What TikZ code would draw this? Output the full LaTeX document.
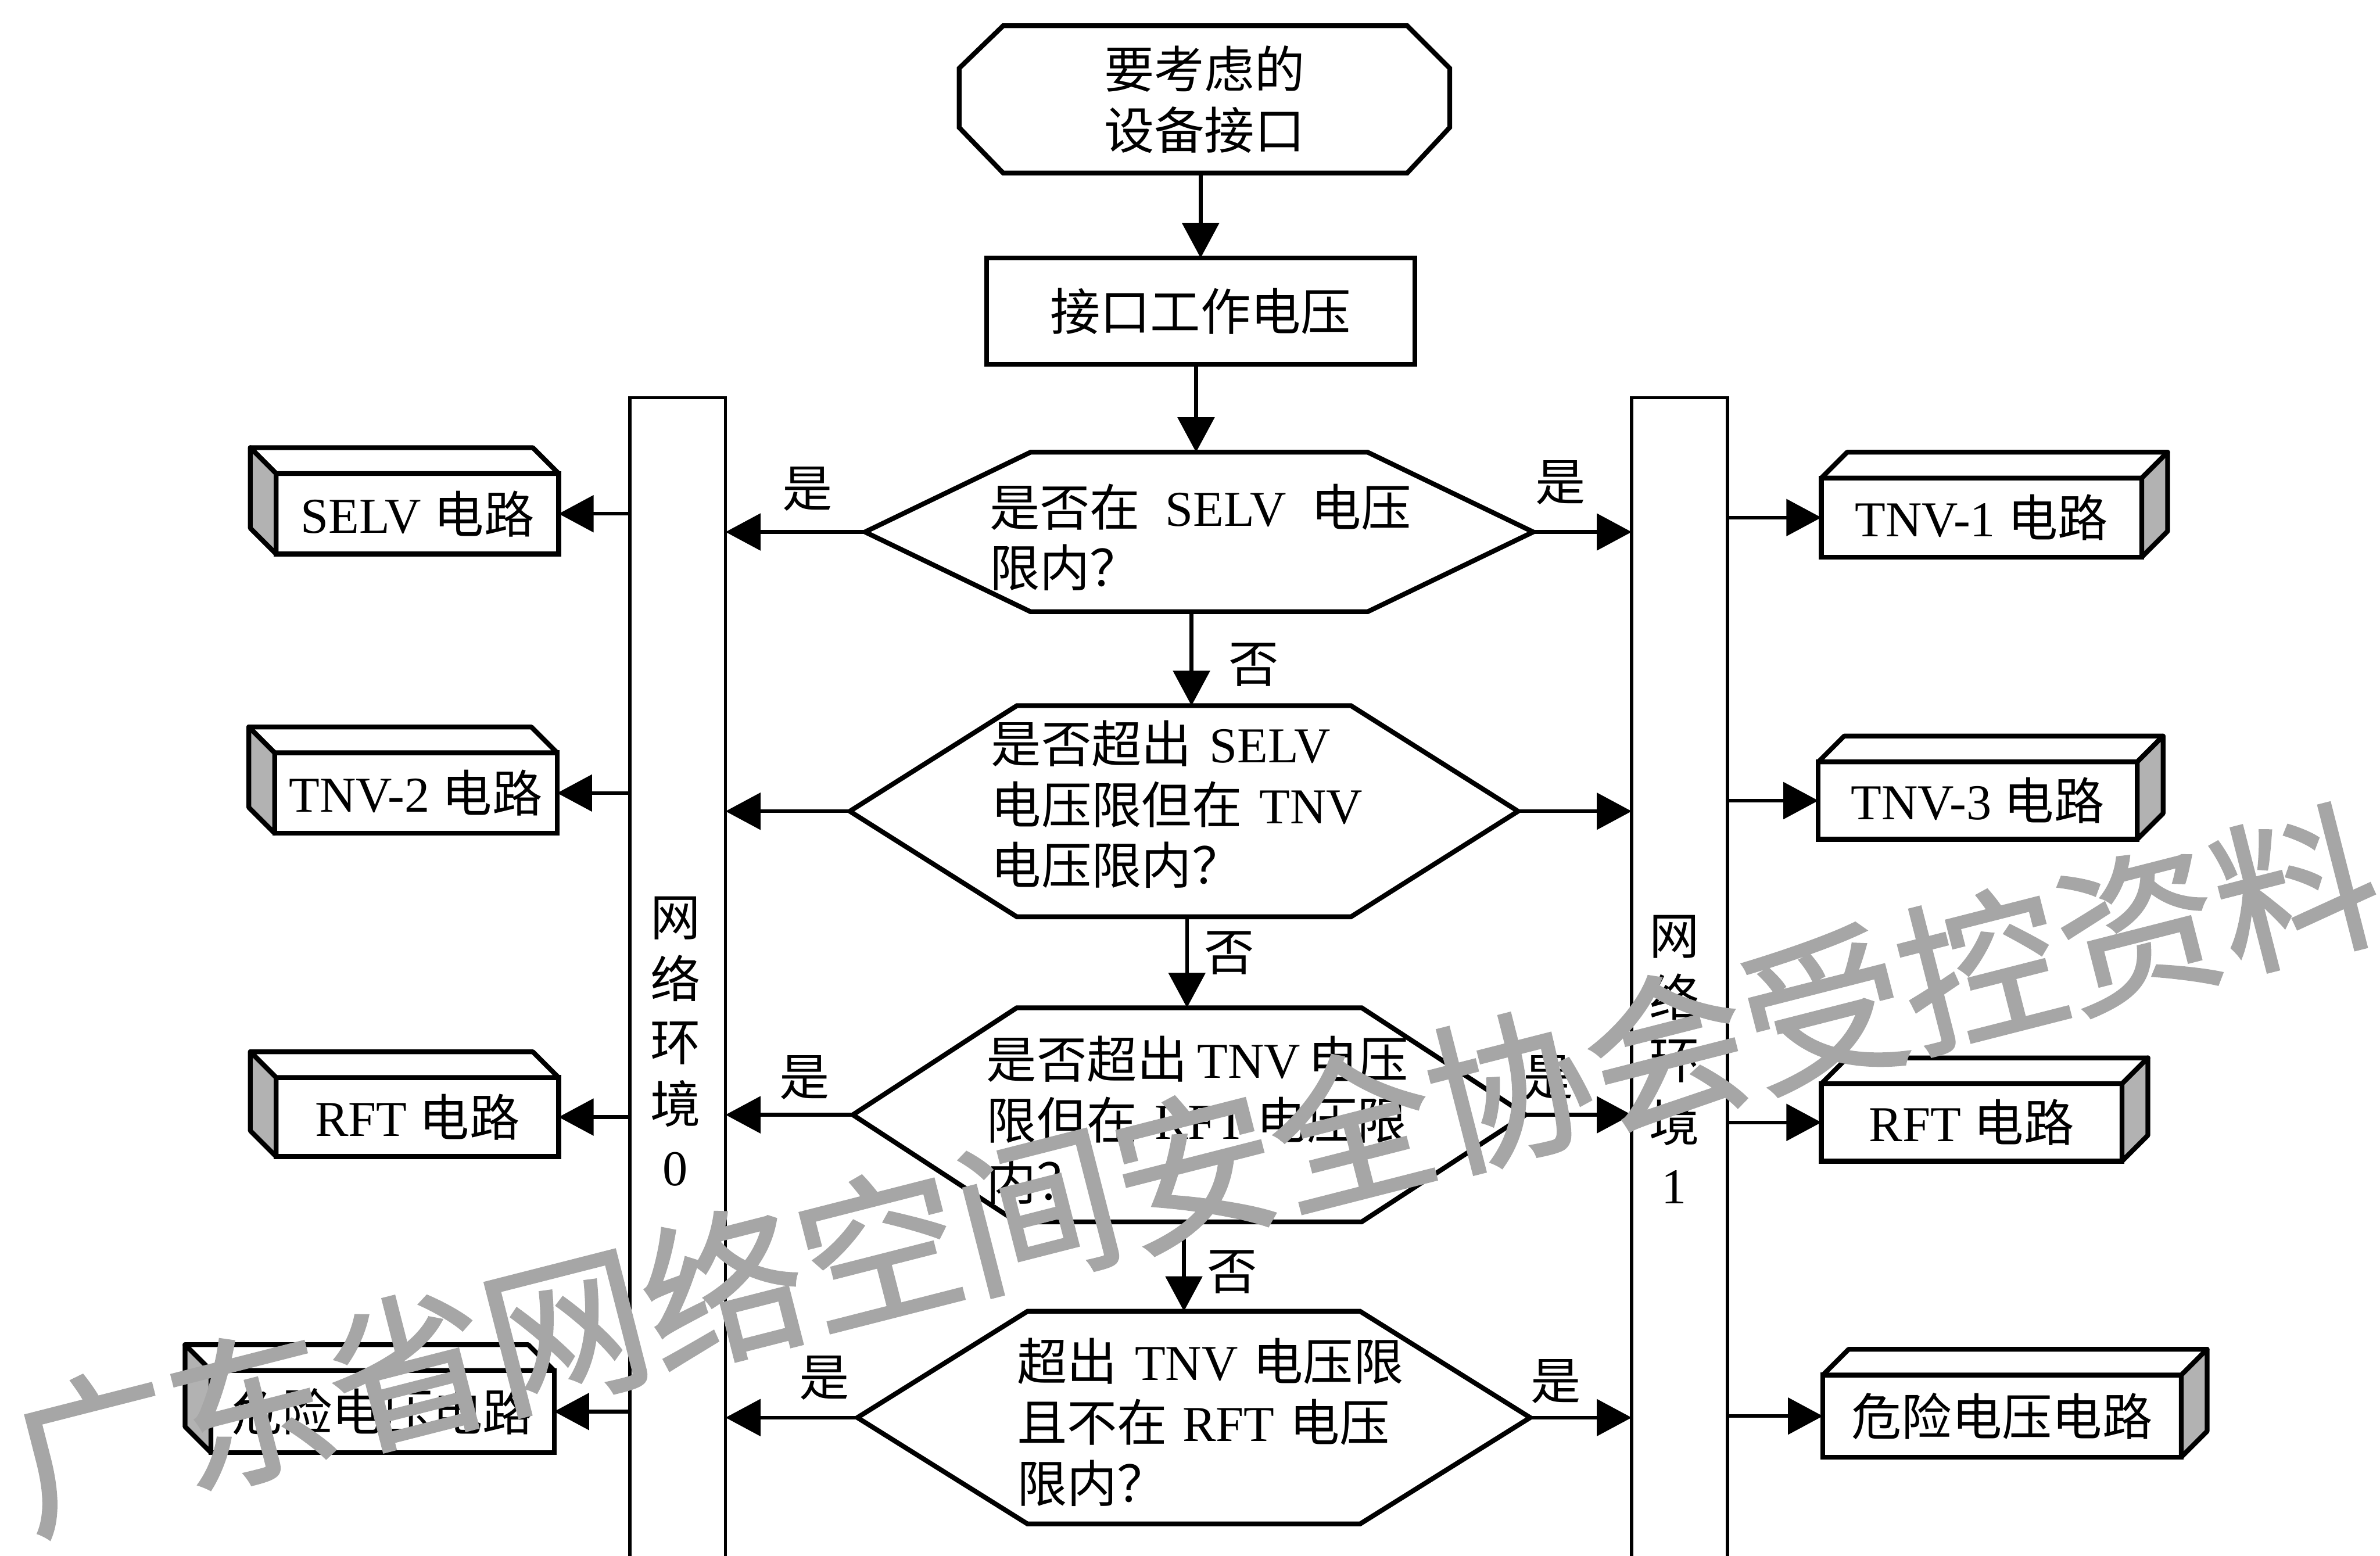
\documentclass[tikz,border=0pt]{standalone}
\usepackage{fontspec}
\setmainfont{Liberation Serif}
\newfontfamily\cjk{Noto Sans CJK SC}
\newfontfamily\wmfont[FakeBold=1.5]{Noto Sans CJK SC}
\usetikzlibrary{arrows.meta}
\newcommand\zh[1]{{\cjk #1}}
% hexagon decision: name, x, y, width, height, slant
\newcommand\hexdecision[6]{%
  \node[anchorbox, minimum width=#4cm, minimum height=#5cm] (#1) at (#2,#3) {};
  \draw[shapeline] (#1.west) -- ([xshift=#6cm]#1.north west) -- ([xshift=-#6cm]#1.north east)
    -- (#1.east) -- ([xshift=-#6cm]#1.south east) -- ([xshift=#6cm]#1.south west) -- cycle;}
% 3D box, depth to the upper left: name, x, y, width, height, text
\newcommand\leftcube[6]{%
  \node[frontface, minimum width=#4cm, minimum height=#5cm] (#1) at (#2,#3) {#6};
  \draw[topfacestyle] (#1.north west) -- ++(-0.17cm,0.17cm) -- ([shift={(-0.17cm,0.17cm)}]#1.north east) -- (#1.north east) -- cycle;
  \draw[sidefacestyle] (#1.north west) -- ++(-0.17cm,0.17cm) -- ([shift={(-0.17cm,0.17cm)}]#1.south west) -- (#1.south west) -- cycle;}
% 3D box, depth to the upper right
\newcommand\rightcube[6]{%
  \node[frontface, minimum width=#4cm, minimum height=#5cm] (#1) at (#2,#3) {#6};
  \draw[topfacestyle] (#1.north west) -- ++(0.17cm,0.17cm) -- ([shift={(0.17cm,0.17cm)}]#1.north east) -- (#1.north east) -- cycle;
  \draw[sidefacestyle] (#1.north east) -- ++(0.17cm,0.17cm) -- ([shift={(0.17cm,0.17cm)}]#1.south east) -- (#1.south east) -- cycle;}
\begin{document}
\begin{tikzpicture}[x=0.01cm,y=-0.01cm,
  txt/.style={font=\fontsize{9.4}{11.4}\selectfont, inner sep=0pt, outer sep=0pt},
  anchorbox/.style={inner sep=0pt, outer sep=0pt},
  shapeline/.style={line width=0.9pt, line join=miter},
  arr/.style={line width=0.7pt, -{Triangle[length=0.23cm,width=0.24cm]}},
  frontface/.style={draw, line width=0.9pt, fill=white, inner sep=0pt, outer sep=0pt, font=\fontsize{9.4}{11.4}\selectfont},
  topfacestyle/.style={draw, line width=0.9pt, fill=white, line join=round},
  sidefacestyle/.style={draw, line width=0.9pt, fill=black!30, line join=round},
  barbox/.style={draw, line width=0.6pt, minimum width=0.63cm, minimum height=8cm, anchor=north, inner sep=0pt, outer sep=0pt},
  lbl/.style={font=\fontsize{9.4}{11.4}\selectfont\cjk, inner sep=0pt}
]
\useasboundingbox (0,0) rectangle (1568,1025);

% start terminal
\node[anchorbox, minimum width=3.23cm, minimum height=0.97cm, align=center,
      font=\fontsize{9.4}{11.4}\selectfont\cjk] (term) at (793.5,65.5) {要考虑的\\设备接口};
\draw[shapeline] ([yshift=-0.28cm]term.north west) -- ([xshift=0.29cm]term.north west)
  -- ([xshift=-0.28cm]term.north east) -- ([yshift=-0.28cm]term.north east)
  -- ([yshift=0.30cm]term.south east) -- ([xshift=-0.28cm]term.south east)
  -- ([xshift=0.29cm]term.south west) -- ([yshift=0.30cm]term.south west) -- cycle;

% interface voltage
\node[draw, line width=0.9pt, minimum width=2.82cm, minimum height=0.70cm, txt] (vol) at (791,205) {\zh{接口工作电压}};

% decisions
\hexdecision{h1}{790}{350.5}{4.40}{1.05}{1.09}
\hexdecision{h2}{780}{534.5}{4.40}{1.39}{1.10}
\hexdecision{h3}{783.5}{734.5}{4.43}{1.41}{1.08}
\hexdecision{h4}{786.5}{934}{4.43}{1.40}{1.12}

\node[txt, align=left, anchor=west] (h1t) at (652,354) {\zh{是否在}\hspace{0.5em}SELV\hspace{0.5em}\zh{电压}\\\zh{限内？}};
\node[txt, align=left, anchor=west] (h2t) at (653,530) {\zh{是否超出}\hspace{0.35em}SELV\\\zh{电压限但在}\hspace{0.35em}TNV\\\zh{电压限内？}};
\node[txt, align=left, anchor=west] (h3t) at (650,738) {\zh{是否超出}\hspace{0.2em}TNV\hspace{0.15em}\zh{电压}\\\zh{限但在}\hspace{0.35em}RFT\hspace{0.2em}\zh{电压限}\\\zh{内？}};
\node[txt, align=left, anchor=west] (h4t) at (670,937) {\zh{超出}\hspace{0.35em}TNV\hspace{0.3em}\zh{电压限}\\\zh{且不在}\hspace{0.3em}RFT\hspace{0.3em}\zh{电压}\\\zh{限内？}};

% network environment bars
\node[barbox] (lb) at (446.5,262) {};
\node[barbox] (rb) at (1106.5,262) {};
\node[anchorbox, align=center, font=\fontsize{9.4}{11.7}\selectfont] (lbt) at (445,686) {\zh{网}\\\zh{络}\\\zh{环}\\\zh{境}\\0};
\node[anchorbox, align=center, font=\fontsize{9.4}{11.7}\selectfont] (rbt) at (1103,698) {\zh{网}\\\zh{络}\\\zh{环}\\\zh{境}\\1};

% circuit boxes
\leftcube{L1}{275}{338.5}{1.86}{0.53}{SELV \zh{电路}}
\leftcube{L2}{274}{522.5}{1.86}{0.53}{TNV-2 \zh{电路}}
\leftcube{L3}{275}{736}{1.86}{0.52}{RFT \zh{电路}}
\leftcube{L4}{252}{930}{2.26}{0.54}{\zh{危险电压电路}}
\rightcube{R1}{1305.5}{341}{2.11}{0.52}{TNV-1 \zh{电路}}
\rightcube{R2}{1303}{527.5}{2.10}{0.51}{TNV-3 \zh{电路}}
\rightcube{R3}{1299}{739.5}{1.98}{0.51}{RFT \zh{电路}}
\rightcube{R4}{1319}{933}{2.36}{0.54}{\zh{危险电压电路}}

% vertical flow
\draw[arr] (term.south -| vol.north) -- (vol.north);
\draw[arr] ([xshift=-0.03cm]vol.south) -- ([xshift=-0.03cm]vol.south |- h1.north);
\draw[arr] ([xshift=-0.05cm]h1.south) -- ([xshift=-0.05cm]h1.south |- h2.north);
\draw[arr] ([xshift=0.02cm]h2.south) -- ([xshift=0.02cm]h2.south |- h3.north);
\draw[arr] ([xshift=-0.035cm]h3.south) -- ([xshift=-0.035cm]h3.south |- h4.north);

% decisions to bars
\foreach \h in {h1,h2,h3,h4}{
  \draw[arr] (\h.west) -- (\h.west -| lb.east);
  \draw[arr] (\h.east) -- (\h.east -| rb.west);
}
% bars to boxes
\foreach \b in {L1,L2,L3,L4}{ \draw[arr] (lb.west |- \b.east) -- (\b.east); }
\foreach \b in {R1,R2,R3,R4}{ \draw[arr] (rb.east |- \b.west) -- (\b.west); }

% labels
\node[lbl] (y1l) at (532,322) {是};
\node[lbl] (y1r) at (1028,318) {是};
\node[lbl] (n1) at (826,438) {否};
\node[lbl] (n2) at (810,628) {否};
\node[lbl] (y3l) at (530,710) {是};
\node[lbl] (y3r) at (1020,710) {是};
\node[lbl] (n3) at (812,838) {否};
\node[lbl] (y4l) at (543,908) {是};
\node[lbl] (y4r) at (1025,910) {是};

% watermark
\node[rotate=14.3, text=black!35, inner sep=0pt, font=\fontsize{30.4}{30.4}\wmfont] (wm) at (787,770) {广东省网络空间安全协会受控资料};
\end{tikzpicture}
\end{document}
